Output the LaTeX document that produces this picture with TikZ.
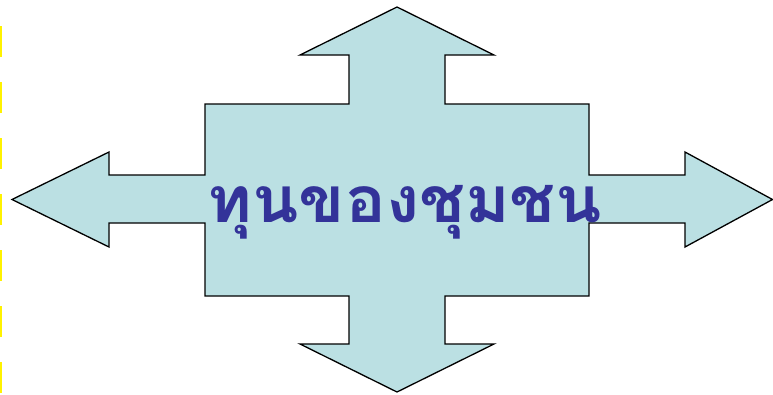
\documentclass[tikz,border=0pt]{standalone}
\usepackage{fontspec}
\newfontfamily\thaifont[Script=Thai, FakeStretch=1.06]{Loma}
\usepackage{xcolor}
\usepackage{tikz}
\definecolor{arrowfill}{RGB}{187,224,227}
\definecolor{titleblue}{RGB}{51,51,153}

\begin{document}
\begin{tikzpicture}[
    x=1pt, y=-1pt,
    cross/.style={draw=black, line width=1.3pt, fill=arrowfill, line join=miter},
    title/.style={font=\thaifont\bfseries\fontsize{64}{68}\selectfont, text=titleblue, inner sep=0pt},
    edge/.style={draw=yellow, line width=2.5pt, dash pattern=on 31pt off 25pt},
]
\useasboundingbox (0,0) rectangle (773,394);

% Left edge marker
\draw[edge] (1,26) -- (1,394);

% Four-way arrow
\path[cross] (397,7) -- (494,55) -- (445,55) -- (445,104) -- (589,104) -- (589,175)
  -- (685,175) -- (685,152) -- (772.5,199.5) -- (685,247) -- (685,223) -- (589,223)
  -- (589,296) -- (445,296) -- (445,344) -- (494,344) -- (397,392) -- (300,344)
  -- (349,344) -- (349,296) -- (205,296) -- (205,223) -- (109,223) -- (109,247)
  -- (12,199.5) -- (109,152) -- (109,175) -- (205,175) -- (205,104) -- (349,104)
  -- (349,55) -- (300,55) -- cycle;

% Title
\node[title, anchor=base] (capital) at (405,222) {ทุนของชุมชน};

\end{tikzpicture}
\end{document}
